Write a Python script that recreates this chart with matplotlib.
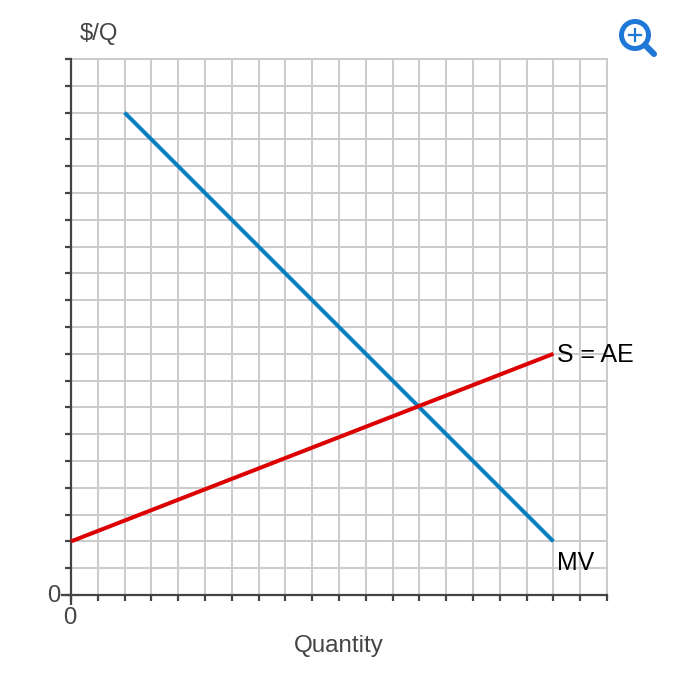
import matplotlib
matplotlib.use("Agg")
import matplotlib.pyplot as plt
from matplotlib.patches import Circle

plt.rcParams['font.family'] = ['Liberation Sans', 'DejaVu Sans']

# data
mv_x = [2, 18]
mv_y = [18, 2]
s_x = [0, 18]
s_y = [2, 9]
x_ticks = list(range(0, 21))
y_ticks = list(range(0, 21))

W = 692
dpi = 100
dark = "#444444"
grid = "#cccccc"

fig = plt.figure(figsize=(W / dpi, W / dpi), dpi=dpi)
left, right, top, bottom = 71, 607, 59, 595
ax = fig.add_axes([left / W, 1 - bottom / W, (right - left) / W, (bottom - top) / W])
ax.set_xlim(0, 20)
ax.set_ylim(0, 20)

ax.set_xticks(x_ticks)
ax.set_yticks(y_ticks)
ax.set_xticklabels([])
ax.set_yticklabels([])
ax.grid(True, color=grid, lw=1.45, zorder=1)
ax.set_axisbelow(True)
ax.tick_params(axis='both', length=4.2, width=1.6, color=dark)

# the outer grid lines sit on the axes edge, keep them whole
for line in ax.get_xgridlines() + ax.get_ygridlines():
    line.set_clip_on(False)

for side in ['top', 'right']:
    ax.spines[side].set_visible(False)
for side in ['left', 'bottom']:
    ax.spines[side].set_color(dark)
    ax.spines[side].set_linewidth(1.6)
    ax.spines[side].set_zorder(3)

ax.plot(mv_x, mv_y, color="#0b7fc1", lw=2.9, zorder=4, solid_capstyle='butt', clip_on=False)
ax.plot(s_x, s_y, color="#dd0000", lw=2.9, zorder=5, solid_capstyle='butt', clip_on=False)

# longer ticks at the origin
ax.plot([0, 0], [0, -0.37], color=dark, lw=1.6, clip_on=False, zorder=3, solid_capstyle='butt')
ax.plot([0, -0.37], [0, 0], color=dark, lw=1.6, clip_on=False, zorder=3, solid_capstyle='butt')

ax.text(18.13, 8.96, "S = AE", fontsize=17.9, color="black", va='center', ha='left', zorder=6)
ax.text(18.13, 1.2, "MV", fontsize=17.9, color="black", va='center', ha='left', zorder=6)

# overlay in pixels for the labels outside the plot and the zoom icon
ov = fig.add_axes([0, 0, 1, 1])
ov.set_xlim(0, W)
ov.set_ylim(W, 0)
ov.axis('off')
ov.patch.set_alpha(0)

ov.text(99, 34, "$/Q", fontsize=17.2, color=dark, ha='center', va='center')
ov.text(54, 596, "0", fontsize=17.2, color=dark, ha='center', va='center')
ov.text(70, 618, "0", fontsize=17.2, color=dark, ha='center', va='center')
ov.text(339, 646, "Quantity", fontsize=17.4, color=dark, ha='center', va='center')

blue = "#1f78d8"
ov.add_patch(Circle((635, 35), 13.5, fill=False, ec=blue, lw=3.6))
ov.plot([645, 654], [45, 54], color=blue, lw=4.4, solid_capstyle='round')
ov.plot([629, 641], [35, 35], color=blue, lw=1.6)
ov.plot([635, 635], [29, 41], color=blue, lw=1.6)

fig.savefig("out.png", dpi=dpi)
